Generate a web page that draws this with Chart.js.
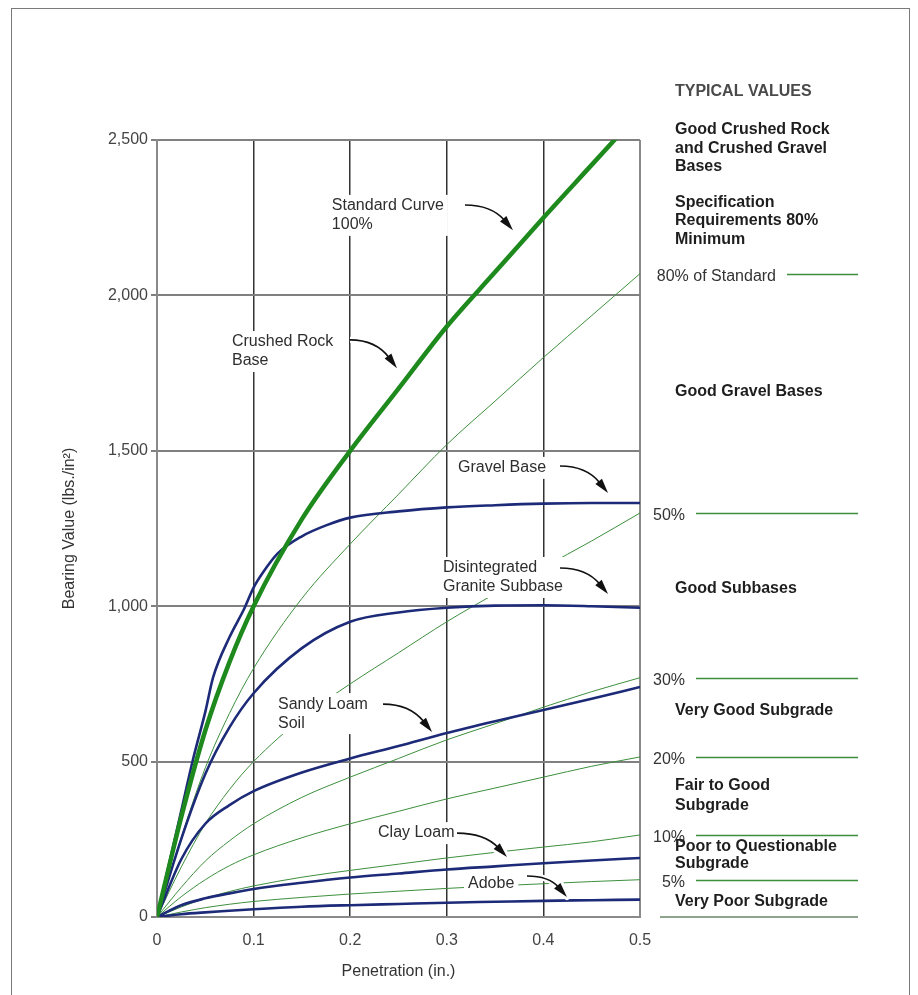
<!DOCTYPE html>
<html>
<head>
<meta charset="utf-8">
<script src="https://cdn.jsdelivr.net/npm/chart.js@4.4.1/dist/chart.umd.min.js"></script>
<style>
  html, body { margin: 0; padding: 0; background: #fff; }
  canvas { display: block; }
</style>
</head>
<body>
<canvas id="cbr" width="918" height="995"></canvas>
<script>
// Penetration depths (in.) used by the curves
const penetration = [0, 0.025, 0.05, 0.075, 0.1, 0.15, 0.2, 0.25, 0.3, 0.35, 0.4, 0.45, 0.5];

// Bearing values (lbs./in²)
const standardCurve = [0, 320, 600, 820, 1000, 1280, 1500, 1700, 1900, 2075, 2250, 2420, 2590];
const pct80 = [0, 255, 480, 655, 800, 1025, 1200, 1360, 1520, 1660, 1800, 1935, 2070];
const pct50 = [0, 160, 300, 410, 500, 640, 750, 850, 950, 1040, 1125, 1210, 1300];
const pct30 = [0, 95, 180, 245, 300, 385, 450, 510, 570, 622, 675, 725, 770];
const pct20 = [0, 65, 120, 165, 200, 255, 300, 340, 380, 415, 450, 485, 515];
const pct10 = [0, 32, 60, 82, 100, 128, 150, 170, 190, 208, 225, 242, 264];
const pct5  = [0, 16, 30, 41, 50, 63, 74, 83, 92, 100, 107, 114, 120];

const gravelPen  = [0, 0.0125, 0.025, 0.0375, 0.05, 0.058, 0.075, 0.09, 0.1, 0.11, 0.125, 0.15, 0.175, 0.2, 0.25, 0.3, 0.35, 0.4, 0.45, 0.5];
const gravelBase = [0, 170, 340, 510, 660, 770, 900, 990, 1060, 1110, 1170, 1225, 1260, 1285, 1305, 1318, 1325, 1330, 1332, 1332];
const graniteSubbase = [0, 250, 460, 610, 720, 865, 950, 980, 995, 1002, 1003, 1000, 995];
const sandyLoam = [0, 185, 300, 360, 405, 465, 510, 550, 592, 630, 666, 702, 740];
const clayLoam  = [0, 38, 60, 76, 90, 110, 127, 140, 153, 163, 173, 182, 190];
const adobe     = [0, 9, 15, 20, 25, 33, 38, 42, 46, 49, 52, 54, 56];

// Axis tick labels
const xTickLabels = ['0', '0.1', '0.2', '0.3', '0.4', '0.5'];
const yTickLabels = ['0', '500', '1,000', '1,500', '2,000', '2,500'];

// Percentage bands shown to the right of the plot
const bandLabels = ['80% of Standard', '50%', '30%', '20%', '10%', '5%'];
const bandCurves = [pct80, pct50, pct30, pct20, pct10, pct5];

// Curve annotations: text, label anchor, arrow start, arrow tip (data units)
const annText = [['Standard Curve', '100%'], ['Crushed Rock', 'Base'], ['Gravel Base'],
                 ['Disintegrated', 'Granite Subbase'], ['Sandy Loam', 'Soil'], ['Clay Loam'], ['Adobe']];
const annAt   = [[0.181, 2288], [0.0776, 1850], [0.3116, 1445], [0.296, 1123], [0.1253, 685], [0.2288, 270], [0.322, 109]];
const annFrom = [[0.3188, 2291], [0.1998, 1857], [0.4172, 1451], [0.4172, 1123], [0.234, 685], [0.3106, 270], [0.383, 132]];
const annTip  = [[0.3685, 2210], [0.2484, 1766], [0.4669, 1364], [0.4669, 1039], [0.2847, 595], [0.3623, 193], [0.4244, 64]];

// Classification notes in the right margin
const notes = [
  ['TYPICAL VALUES', 92, true],
  ['Good Crushed Rock', 130], ['and Crushed Gravel', 149], ['Bases', 167],
  ['Specification', 203], ['Requirements 80%', 221], ['Minimum', 240],
  ['Good Gravel Bases', 392],
  ['Good Subbases', 589],
  ['Very Good Subgrade', 711],
  ['Fair to Good', 786], ['Subgrade', 806],
  ['Poor to Questionable', 847], ['Subgrade', 864],
  ['Very Poor Subgrade', 902]
];

const FONT = '"Liberation Sans", Arial, Helvetica, sans-serif';
const BLUE = '#1c2a78';
const GREEN = '#1e8a1e';
const THIN_GREEN = '#3d8f3d';

const pts = (xs, ys) => xs.map((x, i) => ({ x: x, y: ys[i] }));

const thin = (label, ys) => ({
  label, data: pts(penetration, ys), borderColor: THIN_GREEN, borderWidth: 1,
  pointRadius: 0, cubicInterpolationMode: 'monotone', fill: false
});
const blue = (label, xs, ys) => ({
  label, data: pts(xs, ys), borderColor: BLUE, borderWidth: 2.6,
  pointRadius: 0, cubicInterpolationMode: 'monotone', fill: false
});

const datasets = [
  { label: 'Standard Curve 100%', data: pts(penetration, standardCurve), borderColor: GREEN,
    borderWidth: 4.5, pointRadius: 0, cubicInterpolationMode: 'monotone', fill: false },
  blue('Gravel Base', gravelPen, gravelBase),
  blue('Disintegrated Granite Subbase', penetration, graniteSubbase),
  blue('Sandy Loam Soil', penetration, sandyLoam),
  blue('Clay Loam', penetration, clayLoam),
  blue('Adobe', penetration, adobe),
  thin('80%', pct80), thin('50%', pct50), thin('30%', pct30),
  thin('20%', pct20), thin('10%', pct10), thin('5%', pct5)
];

function drawArrow(ctx, sx, sy, tx, ty) {
  const dx = tx - sx;
  const cx = sx + dx * 0.55, cy = sy;
  let ux = tx - cx, uy = ty - cy;
  const len = Math.hypot(ux, uy); ux /= len; uy /= len;
  const headLen = 15, headW = 4.2;
  const bx = tx - ux * headLen, by = ty - uy * headLen;
  const head = () => {
    ctx.beginPath();
    ctx.moveTo(tx, ty);
    ctx.lineTo(bx - uy * headW, by + ux * headW);
    ctx.lineTo(bx + uy * headW, by - ux * headW);
    ctx.closePath();
  };
  const shaft = () => {
    ctx.beginPath();
    ctx.moveTo(sx, sy);
    ctx.quadraticCurveTo(cx, cy, bx + ux * 2, by + uy * 2);
  };
  ctx.lineJoin = 'round';
  ctx.strokeStyle = '#fff'; ctx.lineWidth = 6;
  shaft(); ctx.stroke(); head(); ctx.stroke();
  ctx.strokeStyle = '#111'; ctx.lineWidth = 1.6;
  shaft(); ctx.stroke();
  ctx.fillStyle = '#111'; head(); ctx.fill();
}

const decorations = {
  id: 'decorations',
  beforeDraw(chart) {
    const ctx = chart.ctx;
    ctx.save();
    ctx.fillStyle = '#fff';
    ctx.fillRect(0, 0, chart.width, chart.height);
    ctx.strokeStyle = '#7a7a7a';
    ctx.lineWidth = 1;
    ctx.strokeRect(11.5, 8.5, 898, 1000);
    ctx.restore();
  },
  afterDatasetsDraw(chart) {
    const ctx = chart.ctx;
    const xs = chart.scales.x, ys = chart.scales.y;
    ctx.save();
    ctx.font = '16px ' + FONT;
    ctx.textBaseline = 'middle';
    const lh = 19;
    annText.forEach((lines, i) => {
      const x = xs.getPixelForValue(annAt[i][0]);
      const y = ys.getPixelForValue(annAt[i][1]);
      const w = Math.max(...lines.map(t => ctx.measureText(t).width));
      ctx.fillStyle = '#fff';
      ctx.fillRect(x - 4, y - 11, w + 8, lh * (lines.length - 1) + 22);
      ctx.fillStyle = '#2e2e2e';
      lines.forEach((t, k) => ctx.fillText(t, x, y + k * lh));
      drawArrow(ctx,
        xs.getPixelForValue(annFrom[i][0]), ys.getPixelForValue(annFrom[i][1]),
        xs.getPixelForValue(annTip[i][0]), ys.getPixelForValue(annTip[i][1]));
    });
    ctx.restore();
  },
  afterDraw(chart) {
    const ctx = chart.ctx;
    const ys = chart.scales.y;
    ctx.save();
    // percentage band markers
    ctx.font = '16px ' + FONT;
    ctx.textBaseline = 'middle';
    ctx.textAlign = 'right';
    bandCurves.forEach((curve, i) => {
      const y = Math.round(ys.getPixelForValue(curve[curve.length - 1])) + 0.5;
      const start = i === 0 ? 787 : 696;
      ctx.strokeStyle = THIN_GREEN;
      ctx.lineWidth = 1.6;
      ctx.beginPath(); ctx.moveTo(start, y); ctx.lineTo(858, y); ctx.stroke();
      ctx.fillStyle = '#333';
      ctx.fillText(bandLabels[i], start - 11, y + 2);
    });
    const y0 = ys.getPixelForValue(0);
    ctx.strokeStyle = '#8da58d';
    ctx.lineWidth = 2;
    ctx.beginPath(); ctx.moveTo(660, y0); ctx.lineTo(858, y0); ctx.stroke();
    // classification notes
    ctx.textAlign = 'left';
    notes.forEach(([t, y, head]) => {
      ctx.font = 'bold 16px ' + FONT;
      ctx.fillStyle = head ? '#4a4a4a' : '#1e1e1e';
      ctx.fillText(t, 675, y);
    });
    ctx.restore();
  }
};

new Chart(document.getElementById('cbr'), {
  type: 'line',
  data: { datasets },
  plugins: [decorations],
  options: {
    responsive: false,
    animation: false,
    events: [],
    layout: { padding: { left: 0, right: 278, top: 140, bottom: 0 } },
    plugins: { legend: { display: false }, tooltip: { enabled: false }, title: { display: false } },
    scales: {
      x: {
        type: 'linear', min: 0, max: 0.5,
        afterFit: s => { s.height = 78; },
        ticks: {
          stepSize: 0.1, padding: 14, color: '#444',
          font: { family: FONT, size: 16 },
          callback: (v, i) => xTickLabels[i]
        },
        grid: {
          drawTicks: false,
          color: c => (c.index === 0 || c.index === xTickLabels.length - 1) ? '#8a8a8a' : '#333',
          lineWidth: c => (c.index === 0 || c.index === xTickLabels.length - 1) ? 2 : 1.5
        },
        border: { display: true, color: '#8a8a8a', width: 2 },
        title: {
          display: true, text: 'Penetration (in.)', color: '#333',
          font: { family: FONT, size: 16 }, padding: { top: 0, bottom: 14 }
        }
      },
      y: {
        type: 'linear', min: 0, max: 2500,
        afterFit: s => { s.width = 157; },
        ticks: {
          stepSize: 500, padding: 3, color: '#444',
          font: { family: FONT, size: 16 },
          callback: (v, i) => yTickLabels[i]
        },
        grid: { color: '#808080', lineWidth: 2, tickLength: 6 },
        border: { display: true, color: '#8a8a8a', width: 2 },
        title: {
          display: true, text: 'Bearing Value (lbs./in²)', color: '#333',
          font: { family: FONT, size: 16 }, padding: { top: 60, bottom: 0 }
        }
      }
    }
  }
});
</script>
</body>
</html>
